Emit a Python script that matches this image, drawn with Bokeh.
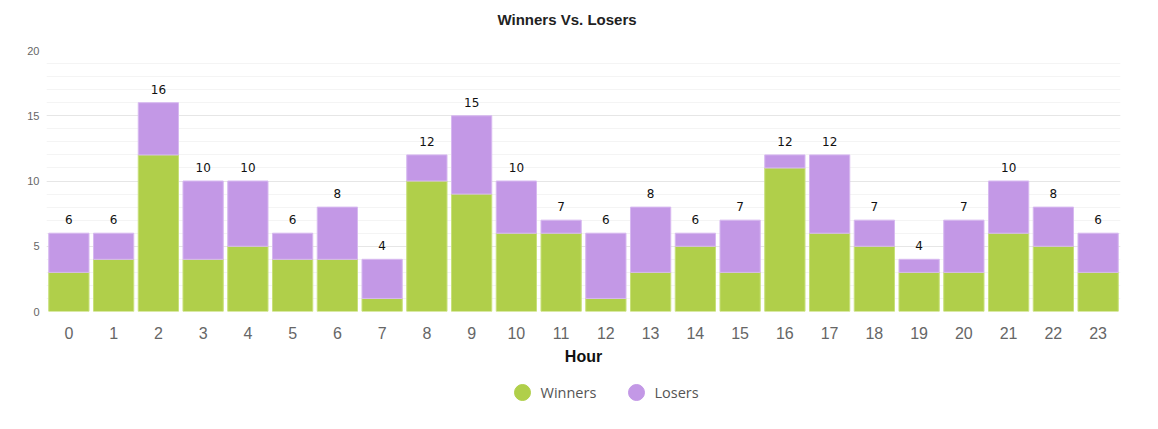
from bokeh.plotting import figure
from bokeh.layouts import column
from bokeh.models import (ColumnDataSource, Range1d, SingleIntervalTicker, FixedTicker)
from bokeh.core.properties import value
from bokeh.embed import file_html
from bokeh.resources import INLINE

hours = list(range(24))
hour_labels = [str(h) for h in hours]
winners = [3, 4, 12, 4, 5, 4, 4, 1, 10, 9, 6, 6, 1, 3, 5, 3, 11, 6, 5, 3, 3, 6, 5, 3]
losers = [3, 2, 4, 6, 5, 2, 4, 3, 2, 6, 4, 1, 5, 5, 1, 4, 1, 6, 2, 1, 4, 4, 3, 3]
totals = [w + l for w, l in zip(winners, losers)]
series_names = ["Winners", "Losers"]
title_text = "Winners Vs. Losers"
x_title = "Hour"

GREEN = "#b0cf4a"
PURPLE = "#c398e6"
W = 1156
FL, FR = 46, 1120   # frame left / right in page pixels (strip figures share it)


def strip(height):
    f = figure(width=W, height=height, output_backend="svg", toolbar_location=None,
               x_range=Range1d(FL, FR), y_range=Range1d(0, height),
               min_border=0, min_border_left=FL, min_border_right=W - FR,
               outline_line_color=None)
    f.axis.visible = False
    f.grid.visible = False
    return f


# title strip
tfig = strip(30)
tfig.text(x=[497], y=[11], text=[title_text], text_baseline="middle", text_align="left",
          text_font=value("Liberation Sans"), text_font_size="15px",
          text_font_style="bold", text_color="#222222")

src = ColumnDataSource(dict(x=hours, Winners=winners, Losers=losers,
                            total=totals, lbl=[str(t) for t in totals]))

p = figure(width=W, height=343, output_backend="svg", toolbar_location=None,
           x_range=Range1d(-0.5, 23.5), y_range=Range1d(0, 20),
           min_border_left=FL, min_border_right=W - FR, min_border_top=20,
           min_border_bottom=62, outline_line_color=None)

p.vbar_stack(series_names, x="x", width=0.9, source=src,
             fill_color=[GREEN, PURPLE], line_color=["#c8e07a", "#d7b9f0"],
             line_width=1)

p.text(x="x", y="total", text="lbl", source=src, y_offset=-9,
       text_align="center", text_baseline="bottom",
       text_font=value("DejaVu Sans"), text_font_size="12px", text_color="#111111")

# axes
p.yaxis.ticker = SingleIntervalTicker(interval=5, num_minor_ticks=5)
p.yaxis.axis_line_color = None
p.yaxis.major_tick_line_color = None
p.yaxis.minor_tick_line_color = None
p.yaxis.major_tick_out = 0
p.yaxis.minor_tick_out = 0
p.yaxis.major_label_text_font = "Liberation Sans"
p.yaxis.major_label_text_font_size = "11px"
p.yaxis.major_label_text_color = "#666666"
p.yaxis.major_label_standoff = 7

p.xaxis.ticker = FixedTicker(ticks=hours)
p.xaxis.major_label_overrides = {h: s for h, s in zip(hours, hour_labels)}
p.xaxis.axis_line_color = None
p.xaxis.major_tick_line_color = None
p.xaxis.minor_tick_line_color = None
p.xaxis.major_tick_out = 0
p.xaxis.minor_tick_out = 0
p.xaxis.major_label_text_font = "Liberation Sans"
p.xaxis.major_label_text_font_size = "16px"
p.xaxis.major_label_text_color = "#666666"
p.xaxis.major_label_standoff = 15
p.xaxis.axis_label = x_title
p.xaxis.axis_label_text_font = "Liberation Sans"
p.xaxis.axis_label_text_font_size = "16px"
p.xaxis.axis_label_text_font_style = "bold"
p.xaxis.axis_label_text_color = "#111111"
p.xaxis.axis_label_standoff = 6

p.xgrid.grid_line_color = None
p.ygrid.grid_line_color = "#e6e6e6"
p.ygrid.grid_line_width = 1
p.ygrid.minor_grid_line_color = "#f4f4f4"

# legend strip
leg = strip(55)
leg_src = ColumnDataSource(dict(cx=[522, 636], tx=[540, 654], y=[36, 36],
                                name=series_names, color=[GREEN, PURPLE]))
leg.scatter(x="cx", y="y", source=leg_src, marker="circle", size=16,
            fill_color="color", line_color="color")
leg.text(x="tx", y="y", text="name", source=leg_src, text_baseline="middle",
         text_align="left", text_font=value("Open Sans"), text_font_size="14.5px",
         text_color="#555555")

open("out.html", "w").write(file_html(column(tfig, p, leg, spacing=0), INLINE))
